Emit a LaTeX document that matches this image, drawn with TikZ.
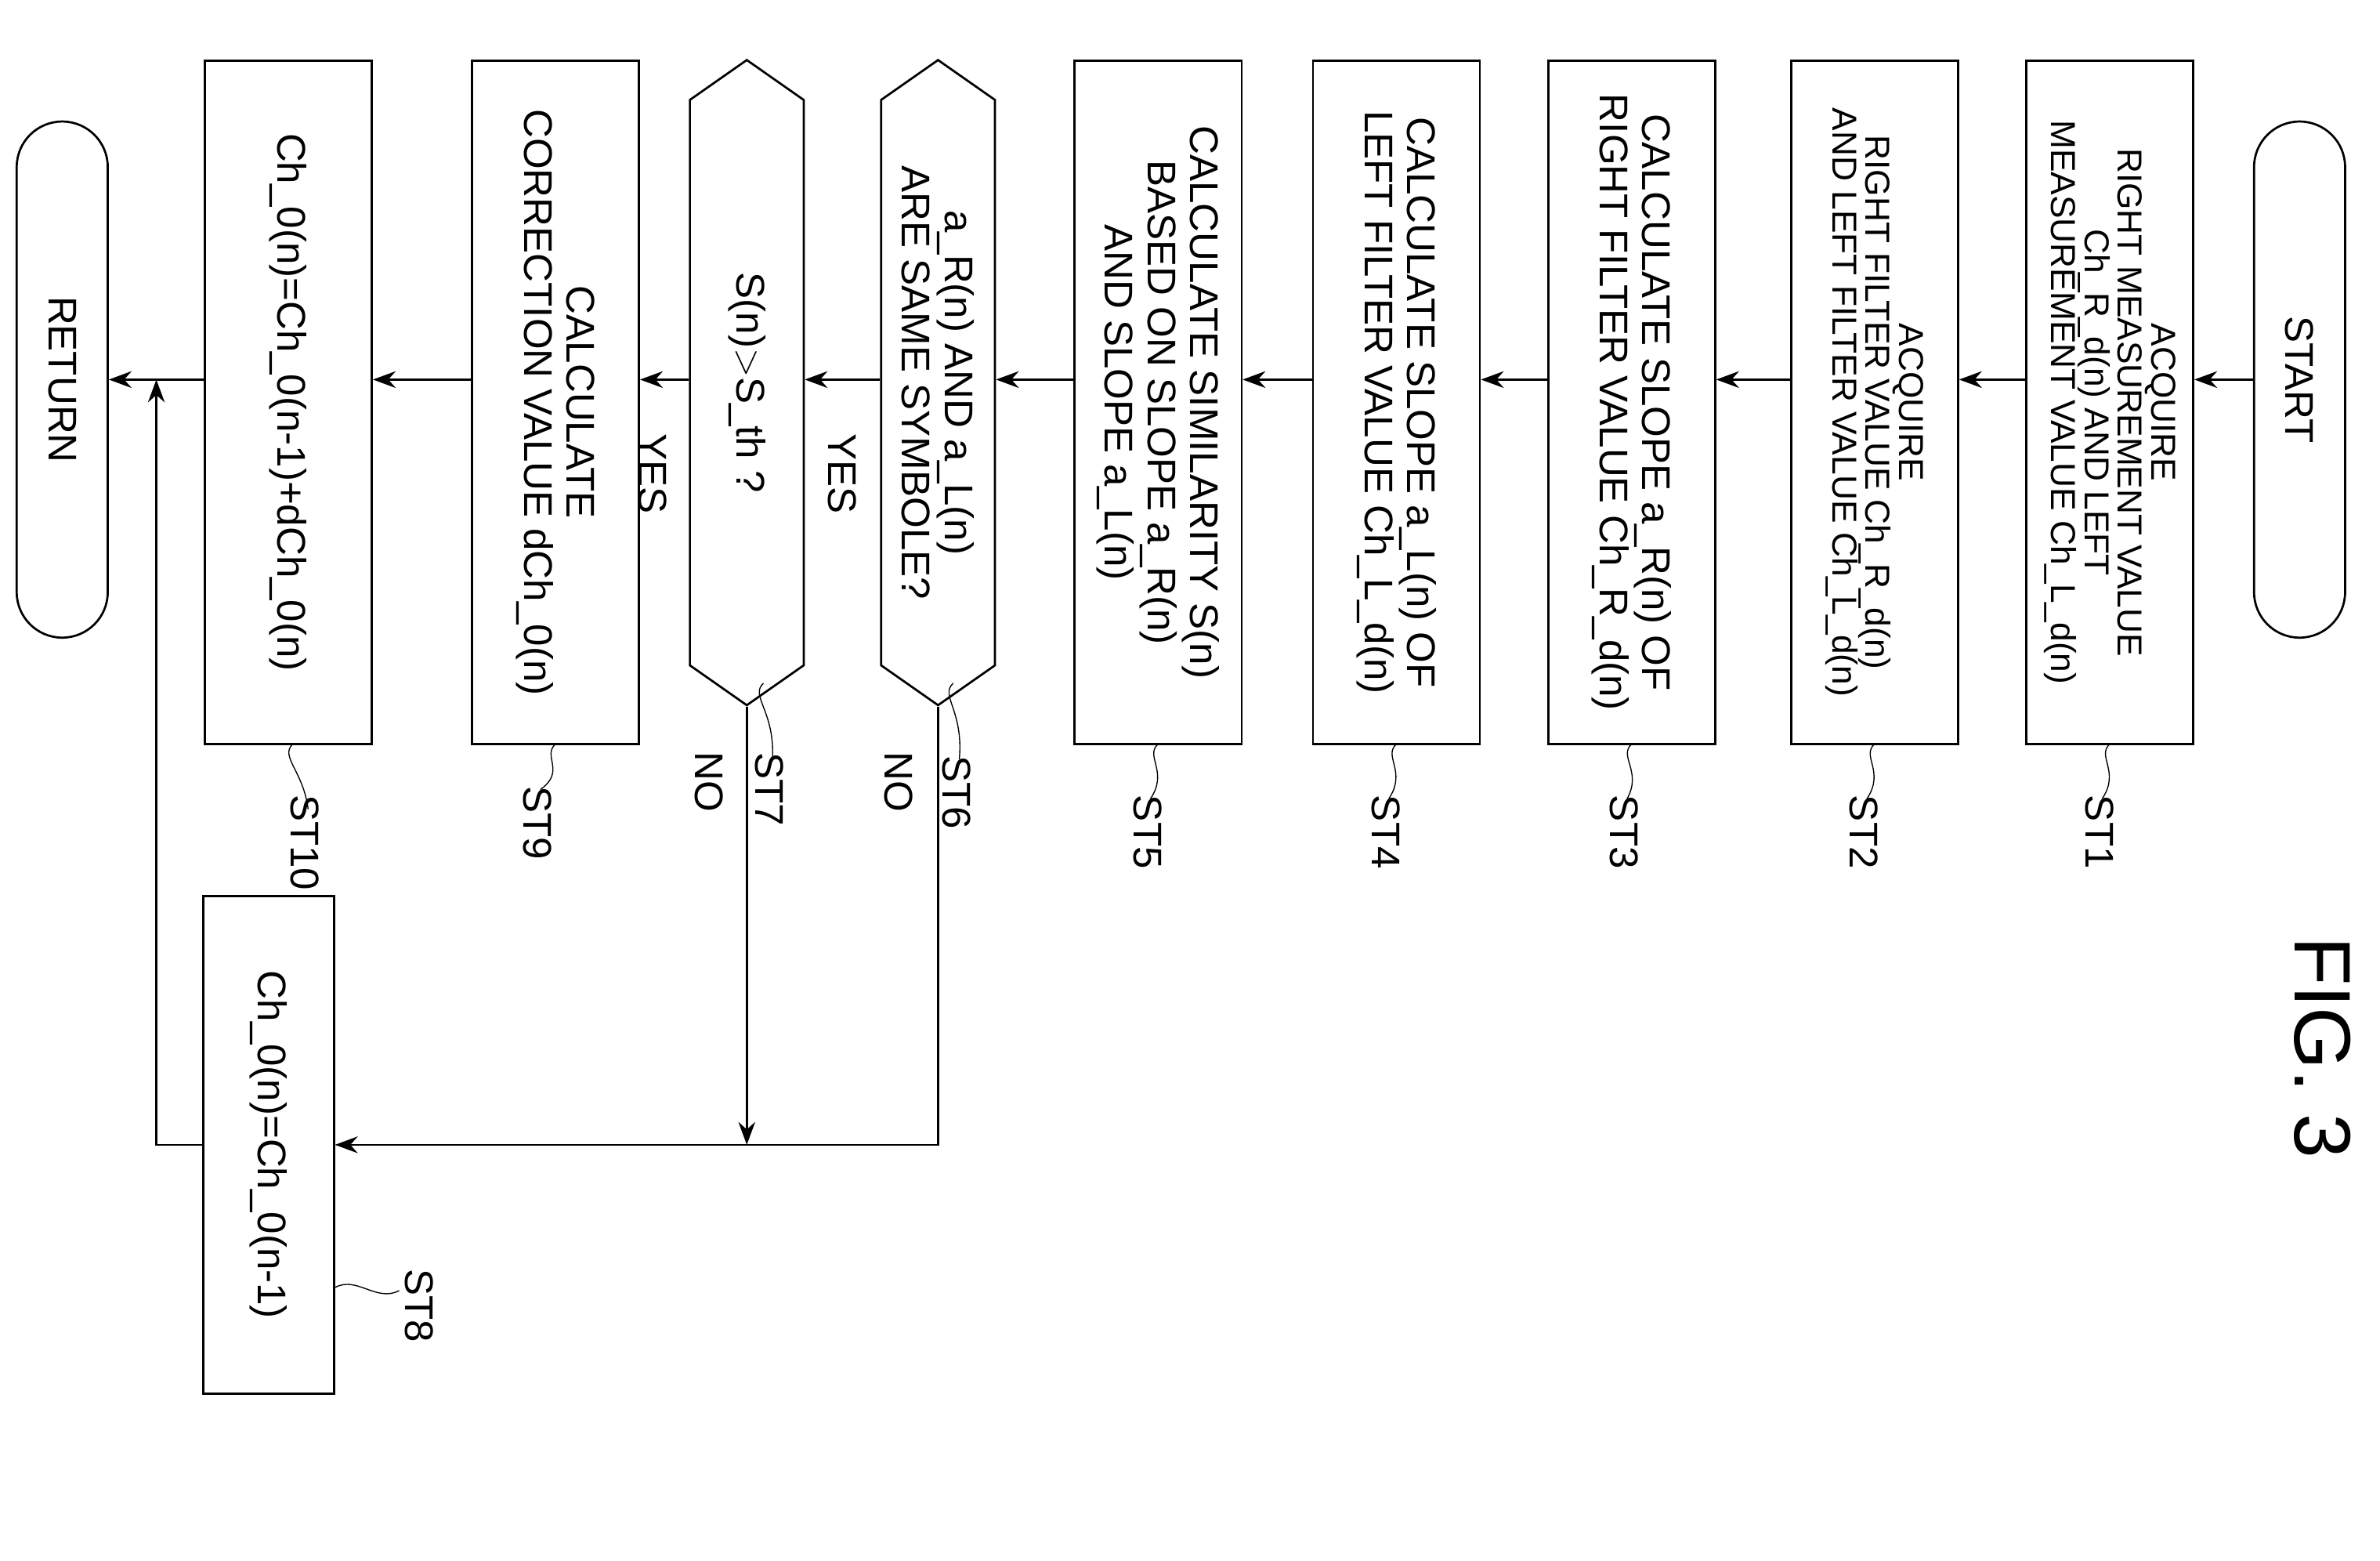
\documentclass[tikz,border=0pt]{standalone}
\usepackage{fontspec}
\setmainfont{Liberation Sans}
\usetikzlibrary{arrows.meta,shapes.symbols}
\begin{document}
\begin{tikzpicture}[
    % one unit is one pixel of the reference at half size
    x=0.02cm, y=-0.02cm,
    box/.style={draw, thick, rotate=-90, align=center, minimum width=9cm, minimum height=2.2cm,
      inner sep=2pt, font=\fontsize{15}{16}\selectfont},
    smallbox/.style={box, font=\fontsize{13}{12.5}\selectfont},
    term/.style={draw, thick, rotate=-90, rounded corners=0.6cm, minimum width=6.8cm,
      minimum height=1.2cm, font=\fontsize{15}{16}\selectfont},
    decide/.style={draw, thick, rotate=-90, signal, signal to=east and west,
      signal pointer angle=110, minimum width=8.5cm, minimum height=1.5cm, align=center,
      inner sep=1pt, font=\fontsize{15}{16}\selectfont},
    lbl/.style={rotate=-90, font=\fontsize{15}{16}\selectfont},
    arr/.style={draw, thick, -{Stealth[length=0.3cm, width=0.22cm]}}
  ]
  \useasboundingbox (0,0) rectangle (1568,1028);

  % --- main column ---
  \node[term] (START) at (1515,250) {START};
  \node[smallbox] (ST1) at (1390,265) {ACQUIRE\\RIGHT MEASUREMENT VALUE\\Ch\_R\_d(n) AND LEFT\\MEASUREMENT VALUE Ch\_L\_d(n)};
  \node[smallbox] (ST2) at (1235,265) {ACQUIRE\\RIGHT FILTER VALUE Ch\_R\_d(n)\\AND LEFT FILTER VALUE Ch\_L\_d(n)};
  \node[box] (ST3) at (1075,265) {CALCULATE SLOPE a\_R(n) OF\\RIGHT FILTER VALUE Ch\_R\_d(n)};
  \node[box] (ST4) at (920,265) {CALCULATE SLOPE a\_L(n) OF\\LEFT FILTER VALUE Ch\_L\_d(n)};
  \node[box] (ST5) at (763,265) {CALCULATE SIMILARITY S(n)\\BASED ON SLOPE a\_R(n)\\AND SLOPE a\_L(n)};
  \node[decide] (ST6) at (618,252) {a\_R(n) AND a\_L(n)\\ARE SAME SYMBOLE?};
  \node[decide] (ST7) at (492,252) {S(n)$>$S\_th ?};
  \node[box] (ST9) at (366,265) {CALCULATE\\CORRECTION VALUE dCh\_0(n)};
  \node[box] (ST10) at (190,265) {Ch\_0(n)=Ch\_0(n-1)+dCh\_0(n)};
  \node[term] (RET) at (41,250) {RETURN};
  \node[box, minimum width=6.56cm, minimum height=1.72cm] (ST8) at (177,754) {Ch\_0(n)=Ch\_0(n-1)};

  \node[rotate=-90, font=\fontsize{30}{32}\selectfont] (fig) at (1530,690) {FIG. 3};

  % --- connectors ---
  \coordinate (spine) at (0,250);
  \coordinate (join) at (0,754);
  \coordinate (back) at (103,250);
  \foreach \a/\b in {START/ST1, ST1/ST2, ST2/ST3, ST3/ST4, ST4/ST5, ST5/ST6, ST6/ST7, ST7/ST9, ST9/ST10, ST10/RET}
    \draw[arr] (\a.south |- spine) -- (\b.north |- spine);
  \draw[arr] (ST6.east) |- (ST8.north |- join);
  \draw[arr] (ST7.east) -- (ST7.east |- join);
  \draw[arr] (ST8.south |- join) -| (back);

  \node[lbl] (yes6) at (555,312) {YES};
  \node[lbl] (yes7) at (430,312) {YES};
  \node[lbl] (no6) at (592,515) {NO};
  \node[lbl] (no7) at (467,515) {NO};

  % --- step tags ---
  \foreach \n/\x/\y/\lx/\ly in {1/1390/490/1383/548, 2/1235/490/1228/548, 3/1075/490/1070/548,
      4/920/490/913/548, 5/763/490/756/548, 6/628/450/630/522, 7/503/450/507/520,
      9/366/490/354/542, 10/193/490/201/555} {
    \draw (\x,\y) .. controls (\x-9,\y+8) and (\x+7,\y+18) .. (\lx+2,\ly-22);
    \node[lbl] (tag\n) at (\lx,\ly) {ST\n};
  }
  \draw (ST8.north |- 0,848) .. controls (235,840) and (248,858) .. (263,850);
  \node[lbl] (tag8) at (276,860) {ST8};
\end{tikzpicture}
\end{document}
